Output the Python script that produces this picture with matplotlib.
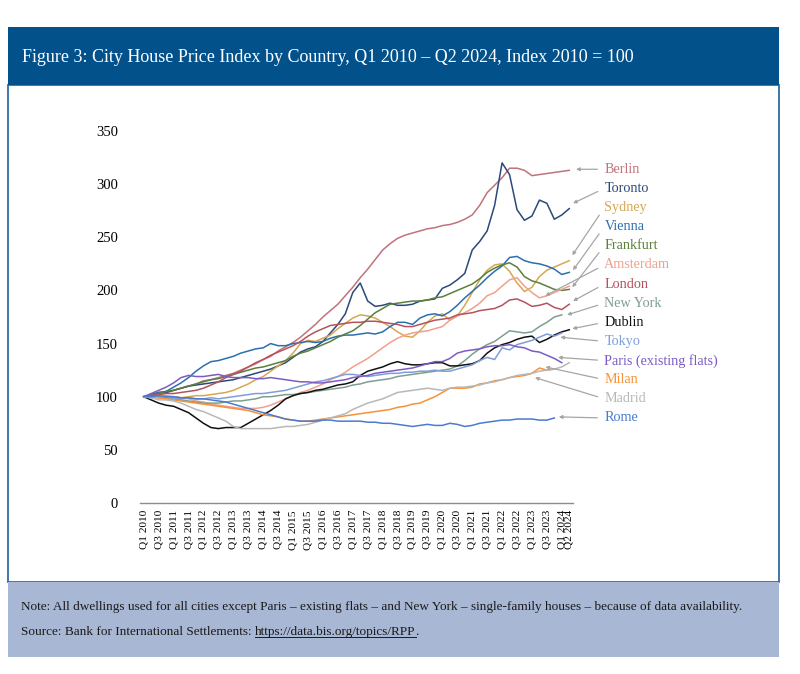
import matplotlib
matplotlib.use("Agg")
import matplotlib.pyplot as plt
from matplotlib.patches import Rectangle
from matplotlib.lines import Line2D

plt.rcParams['font.family'] = ['Liberation Serif', 'DejaVu Serif']

# ---------------- data ----------------
tick_positions = list(range(0, 57, 2)) + [57]
tick_labels = []
for y in range(2010, 2024):
    tick_labels += [f"Q1 {y}", f"Q3 {y}"]
tick_labels += ["Q1 2024", "Q2 2024"]

cities = ["Berlin", "Toronto", "Sydney", "Vienna", "Frankfurt", "Amsterdam", "London",
          "New York", "Dublin", "Tokyo", "Paris (existing flats)", "Milan", "Madrid", "Rome"]

berlin = [100, 101, 103, 104, 106, 108, 110, 112, 115, 116, 118, 120, 122, 125, 128, 131,
          135, 138, 143, 147, 151, 156, 162, 168, 175, 181, 187, 195, 203, 212, 220, 229,
          238, 244, 249, 252, 254, 256, 258, 259, 261, 262, 264, 267, 271, 280, 292, 299,
          306, 315, 315, 313, 308, 309, 310, 311, 312, 313]
toronto = [100, 102, 104, 104, 106, 108, 110, 111, 112, 113, 114, 115, 116, 118, 120, 122,
           124, 126, 129, 132, 137, 142, 145, 147, 152, 160, 168, 178, 198, 207, 190, 185,
           186, 188, 186, 186, 187, 190, 191, 192, 202, 205, 210, 216, 238, 246, 256, 280,
           320, 309, 276, 266, 270, 285, 282, 267, 271, 277]
sydney = [100, 101, 102, 101, 100, 99, 100, 101, 101, 102, 103, 104, 106, 109, 112, 116,
          119, 124, 129, 134, 141, 150, 153, 152, 155, 158, 164, 169, 174, 177, 176, 174,
          170, 166, 161, 157, 156, 162, 170, 176, 178, 172, 176, 186, 198, 210, 219, 224,
          225, 218, 207, 199, 203, 213, 219, 222, 225, 228]
vienna = [100, 102, 104, 105, 109, 113, 118, 124, 129, 133, 134, 136, 138, 141, 143, 145,
          146, 150, 148, 148, 150, 151, 152, 151, 152, 155, 157, 158, 158, 159, 160, 159,
          161, 166, 170, 170, 168, 174, 177, 178, 176, 180, 186, 193, 199, 205, 212, 218,
          223, 231, 232, 228, 226, 225, 223, 220, 215, 217]
frankfurt = [100, 101, 103, 105, 106, 108, 110, 112, 114, 116, 117, 119, 121, 123, 125, 127,
             128, 130, 132, 134, 138, 141, 143, 146, 149, 152, 156, 159, 162, 167, 173, 179,
             183, 187, 188, 189, 190, 190, 191, 193, 194, 197, 200, 203, 206, 211, 217, 221,
             224, 226, 222, 213, 209, 207, 204, 201, 200, 201]
amsterdam = [100, 101, 101, 100, 100, 99, 98, 96, 95, 93, 92, 91, 90, 89, 89, 89,
             90, 92, 95, 98, 101, 104, 106, 109, 112, 116, 119, 123, 128, 132, 136, 141,
             146, 151, 155, 158, 160, 161, 162, 164, 166, 172, 176, 179, 183, 188, 195, 198,
             204, 210, 212, 204, 198, 193, 195, 198, 201, 204]
london = [100, 101, 102, 103, 103, 104, 105, 106, 108, 111, 114, 118, 121, 124, 128, 132,
          135, 139, 142, 145, 148, 152, 157, 161, 164, 167, 168, 169, 170, 170, 171, 171,
          170, 169, 168, 166, 166, 168, 170, 172, 173, 174, 177, 178, 179, 181, 182, 183,
          186, 191, 192, 189, 185, 186, 188, 184, 182, 187]
new_york = [100, 100, 99, 99, 98, 97, 96, 95, 94, 94, 94, 95, 96, 96, 97, 98,
            100, 100, 101, 102, 102, 103, 104, 105, 106, 107, 108, 109, 111, 112, 114, 115,
            116, 117, 119, 120, 121, 122, 123, 124, 125, 126, 129, 134, 140, 145, 149, 152,
            157, 162, 161, 160, 161, 166, 170, 175, 177]
dublin = [100, 97, 94, 92, 91, 88, 85, 80, 75, 71, 70, 71, 71, 71, 75, 79,
          83, 87, 92, 98, 101, 103, 104, 106, 107, 109, 111, 112, 114, 120, 124, 126,
          128, 131, 133, 131, 130, 130, 131, 132, 132, 129, 129, 130, 131, 134, 141, 146,
          149, 151, 154, 156, 157, 151, 154, 158, 161, 163]
tokyo = [100, 99, 100, 98, 99, 98, 99, 98, 98, 99, 98, 99, 100, 101, 102, 103,
         103, 104, 105, 106, 108, 110, 112, 114, 115, 117, 119, 121, 121, 120, 119, 120,
         121, 122, 122, 123, 123, 124, 124, 125, 124, 124, 126, 128, 130, 134, 137, 135,
         146, 144, 149, 151, 153, 156, 159, 157, 160]
paris = [100, 103, 106, 109, 113, 118, 120, 119, 119, 120, 121, 119, 118, 118, 118, 117,
         117, 118, 117, 116, 115, 114, 114, 113, 113, 114, 115, 116, 118, 119, 120, 122,
         123, 124, 125, 126, 127, 129, 131, 133, 133, 136, 141, 143, 144, 145, 147, 148,
         148, 149, 147, 146, 143, 142, 139, 136, 132]
milan = [100, 100, 99, 98, 97, 96, 95, 94, 93, 92, 91, 90, 89, 88, 87, 85,
         83, 82, 81, 79, 78, 77, 77, 78, 79, 80, 81, 82, 83, 84, 85, 86,
         87, 88, 90, 91, 93, 94, 97, 100, 104, 108, 108, 108, 109, 112, 113, 115,
         116, 118, 119, 120, 122, 127, 125, 126]
madrid = [100, 99, 97, 97, 96, 94, 91, 88, 86, 83, 80, 77, 72, 70, 70, 70,
          70, 70, 71, 72, 72, 73, 74, 76, 78, 80, 82, 84, 88, 91, 94, 96,
          98, 101, 104, 105, 106, 107, 108, 107, 106, 108, 109, 109, 110, 111, 113, 114,
          116, 118, 120, 121, 122, 124, 125, 126, 128, 132]
rome = [100, 100, 101, 100, 100, 99, 99, 98, 98, 97, 96, 95, 93, 91, 89, 87,
        85, 83, 81, 79, 78, 77, 77, 77, 78, 78, 77, 77, 77, 77, 76, 76,
        75, 75, 74, 73, 72, 73, 74, 73, 73, 75, 74, 72, 73, 75, 76, 77,
        78, 78, 79, 79, 79, 78, 78, 80]

series = [berlin, toronto, sydney, vienna, frankfurt, amsterdam, london,
          new_york, dublin, tokyo, paris, milan, madrid, rome]

colors = ["#C0737A", "#2A4A7B", "#D6A750", "#2C6FAE", "#5B7F3C", "#F0A08C", "#B5525E",
          "#7F9F8E", "#111111", "#7E9ED8", "#7C5CC4", "#F7923A", "#B8B8B8", "#4A7BD0"]

# arrow targets (x index, value) for the end labels
arrow_tips = [(57.9, 314), (57.5, 282), (57.4, 233), (57.5, 219), (57.4, 203),
              (53.8, 195), (57.5, 190), (56.7, 177), (57.4, 164), (55.8, 156),
              (55.5, 137), (53.8, 128), (52.4, 118), (55.6, 81)]

title = "Figure 3: City House Price Index by Country, Q1 2010 \u2013 Q2 2024, Index 2010 = 100"
note = ("Note: All dwellings used for all cities except Paris \u2013 existing flats \u2013 and New York "
        "\u2013 single-family houses \u2013 because of data availability.")
source_prefix = "Source: Bank for International Settlements: "
source_url = "https://data.bis.org/topics/RPP"

# ---------------- figure ----------------
W, H = 800, 674
fig = plt.figure(figsize=(W / 100, H / 100), dpi=100)

def fx(px):
    return px / W

def fy(py):
    return 1 - py / H

# frame
fig.patches.append(Rectangle((fx(8), fy(582)), fx(771), 497 / H, transform=fig.transFigure,
                             facecolor="white", edgecolor="#2F6CA3", lw=1.3, zorder=0))
fig.patches.append(Rectangle((fx(8), fy(85)), fx(771), 58 / H, transform=fig.transFigure,
                             facecolor="#03518A", edgecolor="none", zorder=1))
fig.patches.append(Rectangle((fx(8), fy(657)), fx(771), 75 / H, transform=fig.transFigure,
                             facecolor="#A8B7D3", edgecolor="none", zorder=1))

fig.text(fx(22), fy(57), title, color="white", fontsize=13.0, va="center", ha="left")
fig.text(fx(21), fy(607), note, color="#1a1a1a", fontsize=9.55, va="center", ha="left")
src = fig.text(fx(21), fy(632), source_prefix, color="#1a1a1a", fontsize=9.55, va="center", ha="left")

# axes
ax = fig.add_axes([fx(140), fy(503), fx(573) - fx(140), (503 - 131) / H])
ax.set_zorder(5)
ax.set_facecolor("none")
for s, c in zip(series, colors):
    ax.plot(range(len(s)), s, color=c, lw=1.1, solid_joinstyle="round")

ax.set_xlim(-0.5, 57.5)
ax.set_ylim(0, 350)
ax.set_yticks(range(0, 351, 50))
ax.set_xticks(tick_positions)
ax.set_xticklabels(tick_labels, rotation=90, fontsize=8.2, va="top", ha="center")
ax.tick_params(axis="y", length=0, pad=16, labelsize=10.5)
ax.tick_params(axis="x", length=0, pad=5)
for sp in ["top", "right", "left"]:
    ax.spines[sp].set_visible(False)
ax.spines["bottom"].set_color("#8C8C8C")
ax.spines["bottom"].set_linewidth(1.0)

label_x = 61.7
for k, (name, c, tip) in enumerate(zip(cities, colors, arrow_tips)):
    ly = 314 - 18 * k
    ax.annotate(name, xy=tip, xytext=(label_x, ly), textcoords="data",
                color=c, fontsize=10.2, va="center", ha="left", annotation_clip=False,
                arrowprops=dict(arrowstyle="-|>", color="#A6A6A6", lw=0.9,
                                shrinkA=3, shrinkB=0, mutation_scale=5,
                                relpos=(0, 0.5)))

# source with underlined url
fig.canvas.draw()
r = fig.canvas.get_renderer()
bb = src.get_window_extent(r)
url = fig.text(bb.x1 / W, fy(632), source_url, color="#1a1a1a", fontsize=9.55,
               va="center", ha="left")
fig.canvas.draw()
ub = url.get_window_extent(r)
fig.text(ub.x1 / W, fy(632), ".", color="#1a1a1a", fontsize=9.55, va="center", ha="left")
fig.lines.append(Line2D([ub.x0 / W, ub.x1 / W], [(ub.y0 + 1.5) / H, (ub.y0 + 1.5) / H],
                        transform=fig.transFigure, color="#1a1a1a", lw=0.7))

fig.savefig("out.png", dpi=100)
